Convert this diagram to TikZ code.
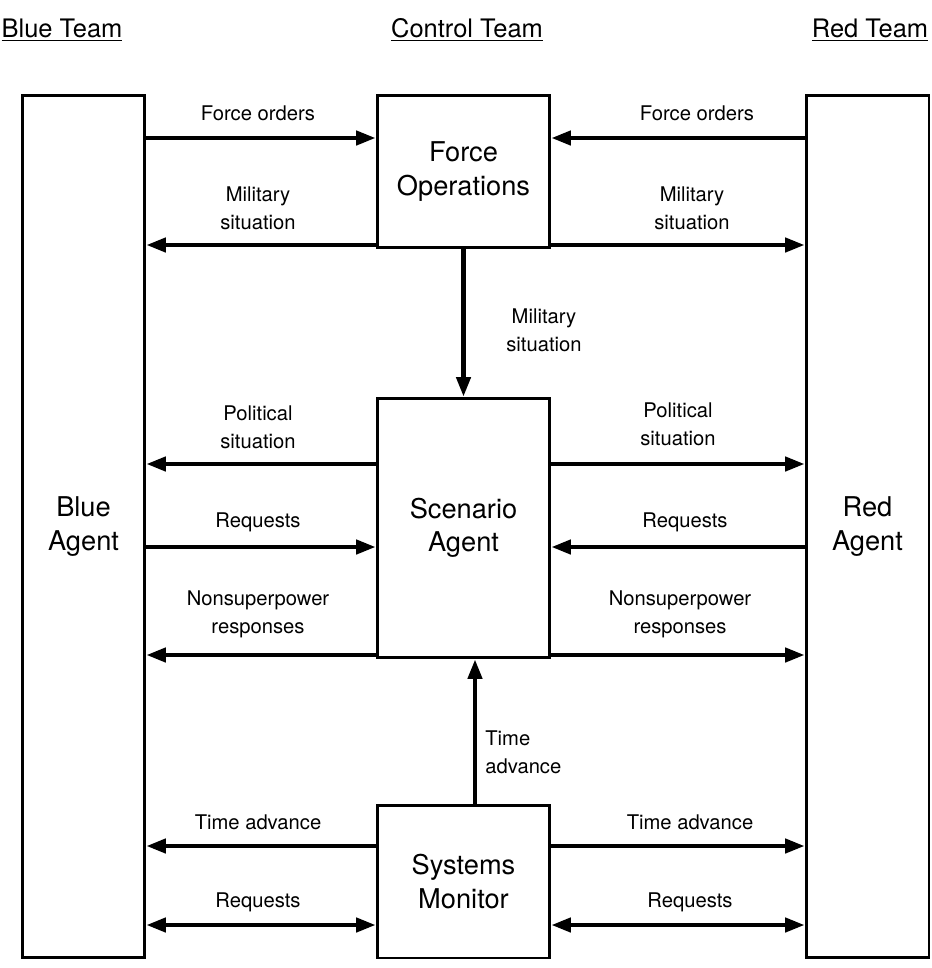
\documentclass[tikz,border=0pt]{standalone}
\usepackage{fontspec}
\setmainfont{TeX Gyre Heros}
\usepackage{tikz}
\usetikzlibrary{arrows.meta}
\usetikzlibrary{positioning}

\begin{document}
\begin{tikzpicture}[x=0.02cm,y=-0.02cm,
    box/.style={draw,line width=1.7pt,inner sep=0pt,align=center,
      font=\fontsize{15.5}{19}\selectfont},
    agentbox/.style={box,minimum width=2.46cm,minimum height=17.26cm},
    ctrlbox/.style={box,minimum width=3.46cm},
    flow/.style={line width=2.3pt,-{Triangle[length=11pt,width=8pt]}},
    bothflow/.style={line width=2.3pt,{Triangle[length=11pt,width=8pt]}-{Triangle[length=11pt,width=8pt]}},
    lbl/.style={align=center,inner sep=0pt,font=\fontsize{11.5}{16}\selectfont},
    head/.style={inner sep=0pt,font=\fontsize{14.5}{18}\selectfont}]
    \useasboundingbox (0,0) rectangle (932,968);
    % team headings
    \node[head] (bluehead) at (62,30) {\underline{Blue Team}};
    \node[head] (ctrlhead) at (467,30) {\underline{Control Team}};
    \node[head] (redhead) at (870,30) {\underline{Red Team}};
    % boxes
    \node[agentbox] (blue) at (83.5,526.5) {Blue\\Agent};
    \node[agentbox] (red) at (867.5,526.5) {Red\\Agent};
    \node[ctrlbox,minimum height=3.06cm] (forceops) at (463.5,171.5) {Force\\Operations};
    \node[ctrlbox,minimum height=5.2cm] (scenario) at (463.5,528) {Scenario\\Agent};
    \node[ctrlbox,minimum height=3.06cm] (sysmon) at (463.5,881.5) {Systems\\Monitor};
    % rows of the arrows
    \coordinate (rowA) at (0,138);
    \coordinate (rowB) at (0,245);
    \coordinate (rowC) at (0,464);
    \coordinate (rowD) at (0,547);
    \coordinate (rowE) at (0,655);
    \coordinate (rowF) at (0,846);
    \coordinate (rowG) at (0,925);
    % force operations
    \draw[flow] (blue.east |- rowA) -- (forceops.west |- rowA);
    \draw[flow] (red.west |- rowA) -- (forceops.east |- rowA);
    \draw[flow] (forceops.west |- rowB) -- (blue.east |- rowB);
    \draw[flow] (forceops.east |- rowB) -- (red.west |- rowB);
    \draw[flow] (forceops.south) -- (scenario.north);
    % scenario agent
    \draw[flow] (scenario.west |- rowC) -- (blue.east |- rowC);
    \draw[flow] (scenario.east |- rowC) -- (red.west |- rowC);
    \draw[flow] (blue.east |- rowD) -- (scenario.west |- rowD);
    \draw[flow] (red.west |- rowD) -- (scenario.east |- rowD);
    \draw[flow] (scenario.west |- rowE) -- (blue.east |- rowE);
    \draw[flow] (scenario.east |- rowE) -- (red.west |- rowE);
    % systems monitor
    \coordinate (tup) at (475,0);
    \draw[flow] (sysmon.north -| tup) -- (scenario.south -| tup);
    \draw[flow] (sysmon.west |- rowF) -- (blue.east |- rowF);
    \draw[flow] (sysmon.east |- rowF) -- (red.west |- rowF);
    \draw[bothflow] (blue.east |- rowG) -- (sysmon.west |- rowG);
    \draw[bothflow] (red.west |- rowG) -- (sysmon.east |- rowG);
    % labels
    \node[lbl] (l1) at (258,113) {Force orders};
    \node[lbl] (r1) at (697,113) {Force orders};
    \node[lbl] (l2) at (258,208) {Military\\situation};
    \node[lbl] (r2) at (692,208) {Military\\situation};
    \node[lbl,anchor=west] (m1) at (506,330) {Military\\situation};
    \node[lbl] (l3) at (258,427) {Political\\situation};
    \node[lbl] (r3) at (678,424) {Political\\situation};
    \node[lbl] (l4) at (258,522) {Requests};
    \node[lbl] (r4) at (685,522) {Requests};
    \node[lbl] (l5) at (258,614) {Nonsuperpower\\responses};
    \node[lbl] (r5) at (680,614) {Nonsuperpower\\responses};
    \node[lbl,anchor=west,align=left] (m2) at (485,752) {Time\\advance};
    \node[lbl] (l6) at (258,822) {Time advance};
    \node[lbl] (r6) at (690,822) {Time advance};
    \node[lbl] (l7) at (258,902) {Requests};
    \node[lbl] (r7) at (690,902) {Requests};
\end{tikzpicture}
\end{document}
